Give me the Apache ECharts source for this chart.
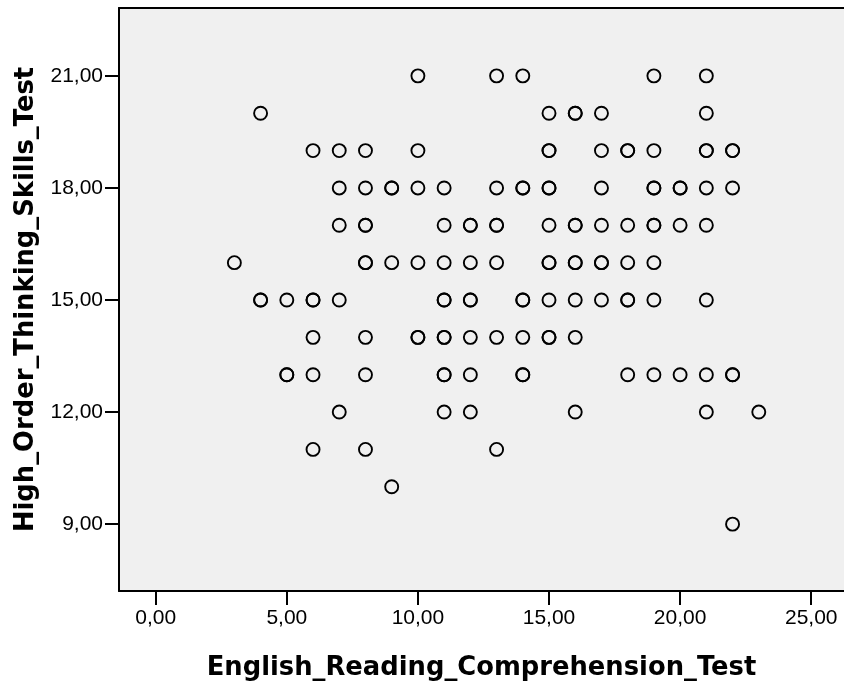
<!DOCTYPE html>
<html>
<head>
<meta charset="utf-8">
<script src="https://cdn.jsdelivr.net/npm/echarts@6/dist/echarts.min.js"></script>
<style>html,body{margin:0;padding:0;background:#fff}#c{width:844px;height:686px}</style>
</head>
<body>
<div id="c"></div>
<script>
// English reading score values (x) per High-order-thinking score (y); repeated values = overlapping cases
const y21 = [10, 13, 14, 19, 21];
const y20 = [4, 15, 16, 16, 17, 21];
const y19 = [6, 7, 8, 10, 15, 15, 17, 18, 18, 19, 21, 21, 22, 22];
const y18 = [7, 8, 9, 9, 10, 11, 13, 14, 14, 15, 15, 17, 19, 19, 20, 20, 21, 22];
const y17 = [7, 8, 8, 11, 12, 12, 13, 13, 15, 16, 16, 17, 18, 19, 19, 20, 21];
const y16 = [3, 8, 8, 9, 10, 11, 12, 13, 15, 15, 16, 16, 17, 17, 18, 19];
const y15 = [4, 4, 5, 6, 6, 7, 11, 11, 12, 12, 14, 14, 15, 16, 17, 18, 18, 19, 21];
const y14 = [6, 8, 10, 10, 11, 11, 12, 13, 14, 15, 15, 16];
const y13 = [5, 5, 6, 8, 11, 11, 12, 14, 14, 18, 19, 20, 21, 22, 22];
const y12 = [7, 11, 12, 16, 21, 23];
const y11 = [6, 8, 13];
const y10 = [9];
const y9 = [22];

const rowLevels = [21, 20, 19, 18, 17, 16, 15, 14, 13, 12, 11, 10, 9];
const rows = [y21, y20, y19, y18, y17, y16, y15, y14, y13, y12, y11, y10, y9];

const xTicks = [0, 5, 10, 15, 20, 25];
const yTicks = [9, 12, 15, 18, 21];

const xName = 'English_Reading_Comprehension_Test';
const yName = 'High_Order_Thinking_Skills_Test';

const points = [];
rows.forEach((r, i) => r.forEach(x => points.push([x, rowLevels[i]])));

const fmt = v => v.toFixed(2).replace('.', ',');
const labelFont = {fontFamily: 'Liberation Sans, Arial, sans-serif', fontSize: 21, color: '#000'};
const nameFont = {fontFamily: 'DejaVu Sans, sans-serif', fontSize: 25.8, fontWeight: 'bold', color: '#000'};
const X_MIN = -1.40, X_MAX = 26.25, Y_MIN = 7.21, Y_MAX = 22.817;
const line = {show: true, onZero: false, lineStyle: {color: '#000', width: 2}};

const chart = echarts.init(document.getElementById('c'), null, {renderer: 'canvas'});
chart.setOption({
  animation: false,
  backgroundColor: '#fff',
  grid: {
    left: 119, top: 8, right: 0, bottom: 94,
    show: true, backgroundColor: '#f0f0f0', borderWidth: 0
  },
  xAxis: [{
    type: 'value',
    min: X_MIN, max: X_MAX,
    name: xName, nameLocation: 'middle', nameGap: 64,
    nameTextStyle: nameFont,
    axisLine: line,
    axisTick: {show: true, length: 14, lineStyle: {color: '#000', width: 2}, customValues: xTicks},
    axisLabel: {margin: 17, formatter: fmt, customValues: xTicks, ...labelFont},
    splitLine: {show: false}
  }, {
    type: 'value', position: 'top',
    min: X_MIN, max: X_MAX,
    axisLine: line,
    axisTick: {show: false}, axisLabel: {show: false}, splitLine: {show: false}
  }],
  yAxis: {
    type: 'value',
    min: Y_MIN, max: Y_MAX,
    name: yName, nameLocation: 'middle', nameGap: 78, nameRotate: 90,
    nameTextStyle: nameFont,
    axisLine: line,
    axisTick: {show: true, length: 14, lineStyle: {color: '#000', width: 2}, customValues: yTicks},
    axisLabel: {margin: 16, formatter: fmt, customValues: yTicks, ...labelFont},
    splitLine: {show: false}
  },
  series: [{
    type: 'scatter',
    data: points,
    symbol: 'circle',
    symbolSize: 13,
    itemStyle: {color: 'rgba(0,0,0,0)', borderColor: '#000', borderWidth: 1.9, opacity: 1},
    emphasis: {disabled: true}
  }]
});
</script>
</body>
</html>
